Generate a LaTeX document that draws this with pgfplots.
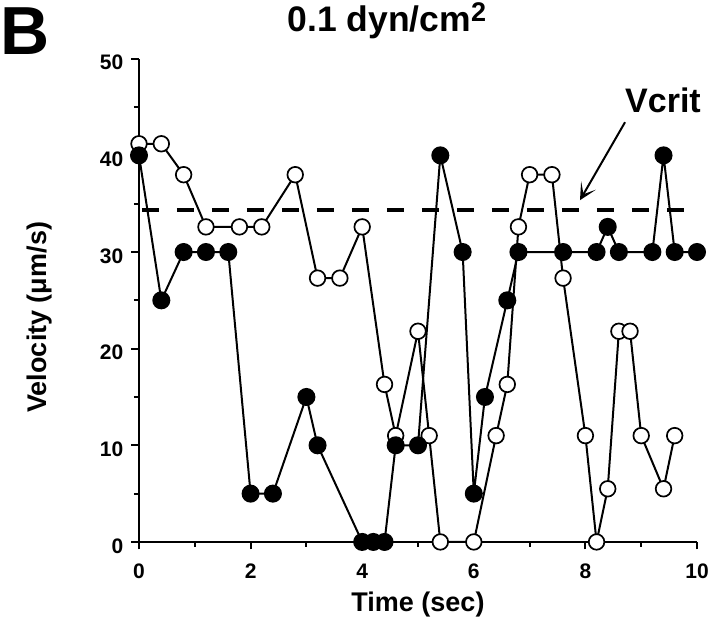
\documentclass[border=0pt]{standalone}
\usepackage{pgfplots}
\pgfplotsset{compat=1.18}
\usepackage{fontspec}
\setmainfont{Liberation Sans}
\usetikzlibrary{arrows.meta}

\begin{document}
\begin{tikzpicture}
\begin{axis}[
  scale only axis, width=558pt, height=483.2pt,
  xmin=0, xmax=10, ymin=0, ymax=50,
  axis x line*=bottom, axis y line*=left,
  axis line style={line width=2pt},
  xtick={0,2,...,10}, ytick={0,10,...,50},
  minor xtick={1,3,5,7,9}, minor ytick={5,15,25,35,45},
  tick align=outside,
  major tick length=7.5pt, minor tick length=5pt,
  tick style={line width=2pt, black},
  clip=false,
  /pgf/number format/assume math mode=true,
  ticklabel style={font=\fontsize{21}{21}\selectfont\bfseries, inner sep=0pt},
  yticklabel style={xshift=-8pt, yshift=-4pt},
  xticklabel style={yshift=-14pt},
  xlabel={Time (sec)}, ylabel={Velocity (μm/s)},
  label style={font=\fontsize{27}{27}\selectfont\bfseries},
  xlabel style={at={(axis description cs:0.5,-0.1434)}, anchor=base, inner sep=0pt},
  ylabel style={at={(axis description cs:-0.1774,0.465)}, anchor=center, inner sep=0pt},
  title={\smash{0.1 dyn/cm\raisebox{10pt}{\fontsize{27}{27}\selectfont 2}}},
  title style={at={(axis description cs:0.2660,1.0445)}, anchor=base west, inner sep=0pt, font=\fontsize{35.5}{35.5}\selectfont\bfseries},
]
% Vcrit dashed line
\addplot[black, line width=4pt, dash pattern=on 17pt off 18pt] coordinates {(0.05,34.37) (10,34.37)};
% open circles
\addplot[black, line width=2pt, mark=*, mark size=7.8pt, mark options={fill=white, line width=1.7pt, solid}] coordinates {
(0,41.2) (0.4,41.2) (0.8,38.0) (1.2,32.6) (1.8,32.6) (2.2,32.6) (2.8,38.0) (3.2,27.3) (3.6,27.3) (4.0,32.6)
(4.4,16.3) (4.6,11.0) (5.0,21.8) (5.2,11.0) (5.4,0) (6.0,0) (6.4,11.0) (6.6,16.3) (6.8,32.6) (7.0,38.0)
(7.4,38.0) (7.6,27.3) (8.0,11.0) (8.2,0) (8.4,5.5) (8.6,21.8) (8.8,21.8) (9.0,11.0) (9.4,5.5) (9.6,11.0)
};
% filled circles
\addplot[black, line width=2pt, mark=*, mark size=8pt, mark options={fill=black, solid}] coordinates {
(0,40) (0.4,25) (0.8,30) (1.2,30) (1.6,30) (2.0,5) (2.4,5) (3.0,15) (3.2,10) (4.0,0)
(4.2,0) (4.4,0) (4.6,10) (5.0,10) (5.4,40) (5.8,30) (6.0,5) (6.2,15) (6.6,25) (6.8,30)
(7.6,30) (8.2,30) (8.4,32.6) (8.6,30) (9.2,30) (9.4,40) (9.6,30) (10,30)
};
\draw[line width=2pt, -{Stealth[length=17pt,width=17pt,inset=10pt]}] (axis cs:8.71,43.43) -- (axis cs:7.903,35.36);
\node[anchor=base, inner sep=0pt, font=\fontsize{34}{34}\selectfont\bfseries] at (axis cs:9.391,44.46) {Vcrit};
\node[anchor=base west, inner sep=0pt, font=\fontsize{68}{68}\selectfont\bfseries] at (axis cs:-2.491,50.47) {\smash{B}};
\path (axis cs:-2.491,-8.106) rectangle (axis cs:10.412,56.077);
\end{axis}
\end{tikzpicture}
\end{document}
